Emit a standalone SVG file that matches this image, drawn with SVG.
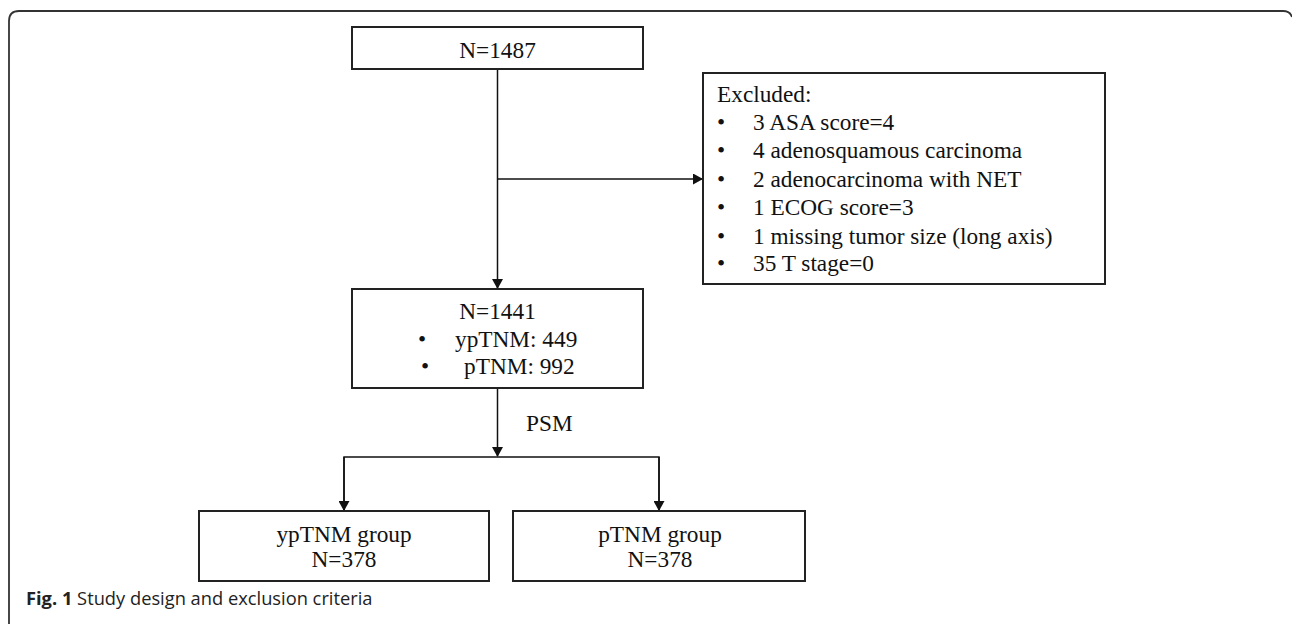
<svg xmlns="http://www.w3.org/2000/svg" width="1292" height="624" viewBox="0 0 1292 624">
<defs>
<marker id="ah" markerWidth="10" markerHeight="11" refX="9" refY="5.5" orient="auto" markerUnits="userSpaceOnUse">
<path d="M0,0 L10,5.5 L0,11 Z" fill="#111"/>
</marker>
<style>
.box{fill:#fff;stroke:#222;stroke-width:2}
.t{font-family:"Liberation Serif","Times New Roman",serif;font-size:23.3px;fill:#111}
.c{stroke:#111;stroke-width:1.5;fill:none}
.cap{font-family:"Open Sans","Noto Sans",sans-serif;font-size:18.3px;fill:#222}
</style>
</defs>
<rect width="1292" height="624" fill="#fff"/>
<path d="M9,624 V21 Q9,11 19,11 H1283 Q1290,11 1292,17" fill="none" stroke="#333" stroke-width="1.8"/>
<g id="connectors">
<path class="c" d="M497.5,69 V288" marker-end="url(#ah)"/>
<path class="c" d="M497.5,179 H702" marker-end="url(#ah)"/>
<path class="c" d="M497.5,388 V456" marker-end="url(#ah)"/>
<path class="c" d="M344,511 V457 H659 V511"/>
<path class="c" d="M344,457 V510" marker-end="url(#ah)"/>
<path class="c" d="M659,457 V510" marker-end="url(#ah)"/>
<text class="t" x="526" y="431">PSM</text>
</g>
<g id="n1487">
<rect class="box" x="352" y="27" width="291" height="42"/>
<text class="t" x="497.5" y="58" text-anchor="middle">N=1487</text>
</g>
<g id="excluded">
<rect class="box" x="703" y="73" width="402" height="211"/>
<text class="t" x="717" y="102">Excluded:</text>
<text class="t" x="717" y="130">•</text><text class="t" x="753" y="130">3 ASA score=4</text>
<text class="t" x="717" y="158">•</text><text class="t" x="753" y="158">4 adenosquamous carcinoma</text>
<text class="t" x="717" y="187">•</text><text class="t" x="753" y="187">2 adenocarcinoma with NET</text>
<text class="t" x="717" y="215">•</text><text class="t" x="753" y="215">1 ECOG score=3</text>
<text class="t" x="717" y="244">•</text><text class="t" x="753" y="244">1 missing tumor size (long axis)</text>
<text class="t" x="717" y="271">•</text><text class="t" x="753" y="271">35 T stage=0</text>
</g>
<g id="n1441">
<rect class="box" x="352" y="289" width="291" height="99"/>
<text class="t" x="497.5" y="319" text-anchor="middle">N=1441</text>
<text class="t" x="418" y="347">•</text><text class="t" x="455" y="347">ypTNM: 449</text>
<text class="t" x="421" y="374">•</text><text class="t" x="464" y="374">pTNM: 992</text>
</g>
<g id="ypTNM">
<rect class="box" x="199" y="511" width="290" height="70"/>
<text class="t" x="344" y="542" text-anchor="middle">ypTNM group</text>
<text class="t" x="344" y="567" text-anchor="middle">N=378</text>
</g>
<g id="pTNM">
<rect class="box" x="513" y="511" width="292" height="70"/>
<text class="t" x="660" y="542" text-anchor="middle">pTNM group</text>
<text class="t" x="660" y="567" text-anchor="middle">N=378</text>
</g>
<text class="cap" x="26" y="605"><tspan font-weight="bold">Fig. 1</tspan> Study design and exclusion criteria</text>
</svg>
